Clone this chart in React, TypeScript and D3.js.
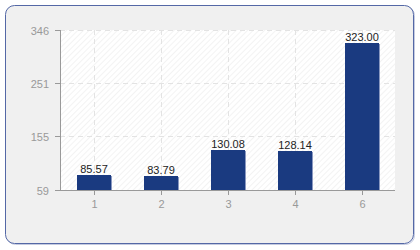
import React from "react";
import * as d3 from "d3";

const categories = ["1", "2", "3", "4", "6"];
const values = [85.57, 83.79, 130.08, 128.14, 323.0];
const yTicks = [59, 155, 251, 346];

const W = 420;
const H = 250;
const margin = { left: 60, right: 25, top: 30, bottom: 60 };

export default function App() {
  const x = d3
    .scaleBand<string>()
    .domain(categories)
    .range([margin.left, W - margin.right])
    .paddingInner(0.5)
    .paddingOuter(0.25);
  const y = d3
    .scaleLinear()
    .domain([59, 346])
    .range([H - margin.bottom, margin.top]);
  const x0 = margin.left;
  const x1 = W - margin.right;
  const y0 = H - margin.bottom;
  const y1 = margin.top;
  const font = "'Liberation Sans', Arial, sans-serif";
  return (
    <svg
      width={W}
      height={H}
      style={{ position: "absolute", left: 0, top: 0 }}
    >
      <defs>
        <pattern
          id="hatch"
          width="4"
          height="4"
          patternUnits="userSpaceOnUse"
          patternTransform="rotate(45)"
        >
          <rect width="4" height="4" fill="#ffffff" />
          <line x1="0" y1="0" x2="0" y2="4" stroke="#ececec" strokeWidth="1.2" />
        </pattern>
      </defs>
      <rect x={6.5} y={6.5} width={408} height={238} rx={9} fill="none" stroke="#c5cbe0" strokeWidth={1} />
      <rect x={5.5} y={5.5} width={408} height={238} rx={9} fill="#f0f0f0" stroke="#5468a6" strokeWidth={1} />
      <rect x={x0} y={y1} width={x1 - x0} height={y0 - y1} fill="url(#hatch)" />
      {yTicks.slice(1).map((t) => (
        <line
          key={"gy" + t}
          x1={x0}
          x2={x1}
          y1={Math.round(y(t)) + 0.5}
          y2={Math.round(y(t)) + 0.5}
          stroke="#e3e3e3"
          strokeDasharray="5,4"
        />
      ))}
      {categories.map((c) => {
        const cx = Math.round((x(c) as number) + x.bandwidth() / 2) + 0.5;
        return (
          <line key={"gx" + c} x1={cx} x2={cx} y1={y1} y2={y0} stroke="#e3e3e3" strokeDasharray="5,4" />
        );
      })}
      {categories.map((c, i) => {
        const bx = Math.round(x(c) as number);
        const bw = Math.round(x.bandwidth());
        const by = Math.round(y(values[i]));
        return (
          <g key={"b" + c}>
            <rect x={bx + 1} y={by + 1} width={bw} height={y0 - by - 1} fill="#8a98c0" />
            <rect x={bx} y={by} width={bw} height={y0 - by} fill="#1a3a80" />
            <text
              x={bx + bw / 2}
              y={by - 2}
              textAnchor="middle"
              fontFamily={font}
              fontSize={11}
              fill="#222"
            >
              {values[i].toFixed(2)}
            </text>
          </g>
        );
      })}
      <line x1={x0 + 0.5} x2={x0 + 0.5} y1={y1} y2={y0} stroke="#999" />
      <line x1={x0} x2={x1} y1={y0 + 0.5} y2={y0 + 0.5} stroke="#999" />
      {yTicks.map((t) => {
        const ty = Math.round(y(t)) + 0.5;
        return (
          <g key={"ty" + t}>
            <line x1={x0 - 5} x2={x0} y1={ty} y2={ty} stroke="#999" />
            <text
              x={x0 - 11}
              y={ty + 4}
              textAnchor="end"
              fontFamily={font}
              fontSize={11}
              fill="#999"
            >
              {t}
            </text>
          </g>
        );
      })}
      {categories.map((c) => {
        const cx = Math.round((x(c) as number) + x.bandwidth() / 2) + 0.5;
        return (
          <g key={"tx" + c}>
            <line x1={cx} x2={cx} y1={y0} y2={y0 + 5} stroke="#999" />
            <text
              x={cx}
              y={y0 + 18}
              textAnchor="middle"
              fontFamily={font}
              fontSize={11}
              fill="#999"
            >
              {c}
            </text>
          </g>
        );
      })}
    </svg>
  );
}
